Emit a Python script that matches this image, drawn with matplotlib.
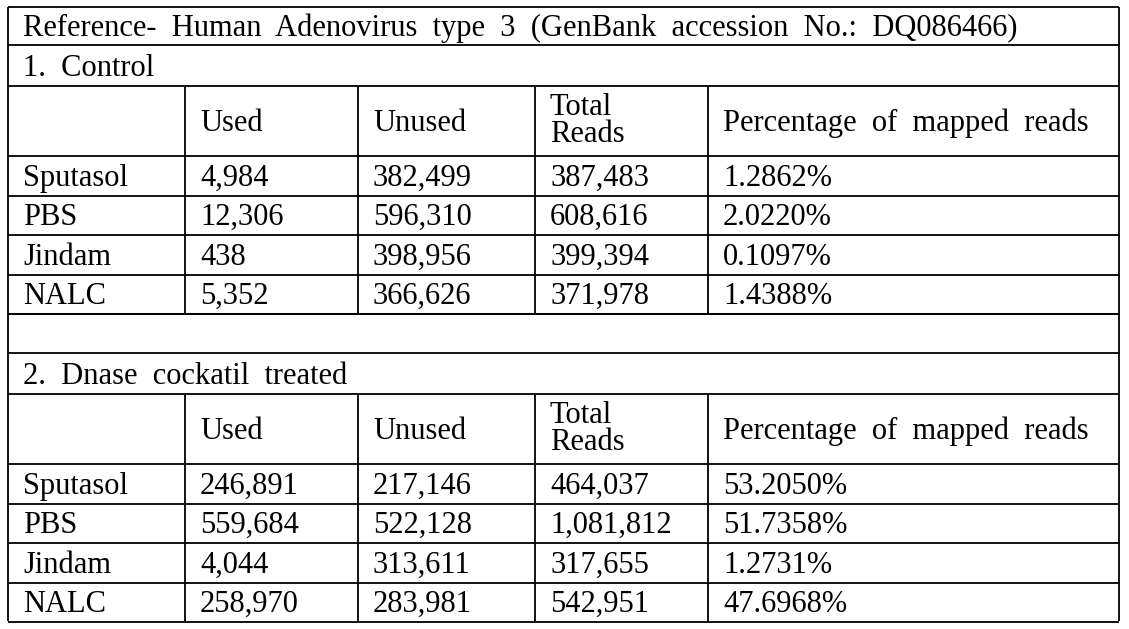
"""Adenovirus mapped reads table"""
import matplotlib
matplotlib.use("Agg")
import matplotlib.pyplot as plt

title = "Reference-  Human  Adenovirus  type  3  (GenBank  accession  No.:  DQ086466)"
section_names = ["1.  Control", "2.  Dnase  cockatil  treated"]
headers = ["", "Used", "Unused", "Total\nReads", "Percentage  of  mapped  reads"]
samples = ["Sputasol", "PBS", "Jindam", "NALC"]

control_used = ["4,984", "12,306", "438", "5,352"]
control_unused = ["382,499", "596,310", "398,956", "366,626"]
control_total = ["387,483", "608,616", "399,394", "371,978"]
control_pct = ["1.2862%", "2.0220%", "0.1097%", "1.4388%"]

dnase_used = ["246,891", "559,684", "4,044", "258,970"]
dnase_unused = ["217,146", "522,128", "313,611", "283,981"]
dnase_total = ["464,037", "1,081,812", "317,655", "542,951"]
dnase_pct = ["53.2050%", "51.7358%", "1.2731%", "47.6968%"]

sections = [
    (control_used, control_unused, control_total, control_pct),
    (dnase_used, dnase_unused, dnase_total, dnase_pct),
]

W, H = 1129, 629
fig = plt.figure(figsize=(W / 100, H / 100), dpi=100)
ax = fig.add_axes([0, 0, 1, 1])
ax.set_xlim(0, W)
ax.set_ylim(H, 0)
ax.axis("off")

FONT = "Liberation Serif"
FS = 22
LW = 1.3
left, right = 8, 1119
col_x = [left, 185, 358, 535, 708, right]
pad = 15
base_off = 10  # baseline below row centre

def text_left(x, yc, s):
    # single lines sit on a common baseline so rows line up
    if "\n" in s:
        ax.text(x, yc, s, fontsize=FS, family=FONT, va="center", ha="left",
                linespacing=0.95)
    else:
        ax.text(x, yc + base_off, s, fontsize=FS, family=FONT,
                va="baseline", ha="left")

# title row
row_top = 7
ax.hlines(row_top, left, right, color="black", lw=LW)
text_left(left + pad, 26, title)

sec_tops = [45, 353]
ax.hlines(314, left, right, color="black", lw=LW)  # empty spacer row
for s, (name, vals) in enumerate(zip(section_names, sections)):
    top = sec_tops[s]
    hdr_top = top + 41
    data_top = hdr_top + 70
    row_h = 39.5
    bottom = data_top + row_h * len(samples)
    text_left(left + pad, (top + hdr_top) / 2, name)
    ax.hlines([top, hdr_top, data_top], left, right, color="black", lw=LW)
    for i in range(len(samples)):
        ax.hlines(data_top + row_h * (i + 1), left, right, color="black", lw=LW)
    ax.vlines(col_x[1:-1], hdr_top, bottom, color="black", lw=LW)
    for j, h in enumerate(headers):
        if h:
            text_left(col_x[j] + pad, (hdr_top + data_top) / 2, h)
    cols = [samples] + list(vals)
    for i in range(len(samples)):
        yc = data_top + row_h * (i + 0.5)
        for j, col in enumerate(cols):
            text_left(col_x[j] + pad, yc, col[i])

ax.vlines([left, right], row_top, 621, color="black", lw=LW)

fig.savefig("out.png", dpi=100, facecolor="white")
